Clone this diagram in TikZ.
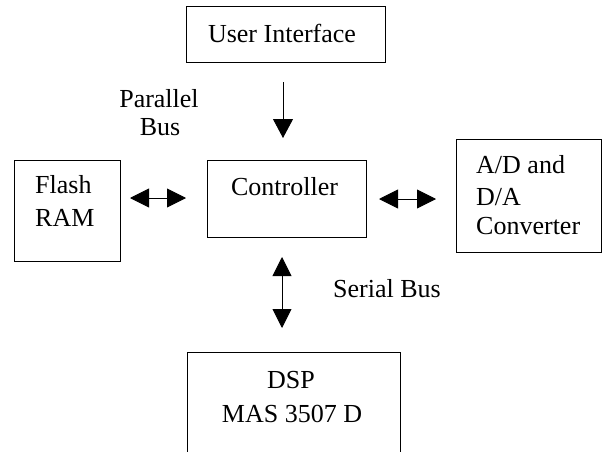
\documentclass[tikz,border=0pt]{standalone}
\usepackage{fontspec}
\setmainfont{Liberation Serif}
\usetikzlibrary{arrows.meta}
\begin{document}
\begin{tikzpicture}[x=1pt,y=-1pt,
  box/.style={draw, line width=1.1pt, rectangle, inner sep=0pt, anchor=north west},
  lbl/.style={inner sep=0pt, font=\fontsize{26}{30}\selectfont},
  bus/.style={line width=0.9pt, -{Triangle[length=19pt,width=20pt]}},
  bibus/.style={line width=0.9pt, {Triangle[length=19pt,width=19pt]}-{Triangle[length=19pt,width=19pt]}}]
  \useasboundingbox (0,0) rectangle (602,452);
  \clip (0,0) rectangle (602,452);

  % blocks
  \node[box, minimum width=199pt, minimum height=56pt] (ui) at (186,6) {};
  \node[box, minimum width=159pt, minimum height=77pt] (ctrl) at (207,160) {};
  \node[box, minimum width=106pt, minimum height=101pt] (flash) at (14,160) {};
  \node[box, minimum width=145pt, minimum height=113pt] (adc) at (456,139) {};
  \node[box, minimum width=213pt, minimum height=130pt] (dsp) at (187,352) {};

  % block texts
  \node[lbl, anchor=base] (uit) at (282,43) {User Interface};
  \node[lbl, anchor=base] (ctrlt) at (284.5,195) {Controller};
  \node[lbl, anchor=base west] (flt1) at (35,193) {Flash};
  \node[lbl, anchor=base west] (flt2) at (35,226) {RAM};
  \node[lbl, anchor=base west] (adt1) at (476,173) {A/D and};
  \node[lbl, anchor=base west] (adt2) at (476,205) {D/A};
  \node[lbl, anchor=base west] (adt3) at (476,234) {Converter};
  \node[lbl, anchor=base] (dspt1) at (291,388) {DSP};
  \node[lbl, anchor=base] (dspt2) at (292,422) {MAS 3507 D};

  % bus labels
  \node[lbl, anchor=base] (par1) at (159,107) {Parallel};
  \node[lbl, anchor=base] (par2) at (160,135) {Bus};
  \node[lbl, anchor=base west] (ser) at (333,297) {Serial Bus};

  % connector ends
  \coordinate (uiA) at (283,82);
  \coordinate (ctA) at (283,138);
  \coordinate (flA) at (130,198);
  \coordinate (ctB) at (186,198);
  \coordinate (ctC) at (379,199);
  \coordinate (adA) at (436,199);
  \coordinate (ctD) at (282,257);
  \coordinate (dsA) at (282,328);

  % buses
  \draw[bus] (uiA) -- (ctA);
  \draw[bibus] (flA) -- (ctB);
  \draw[bibus] (ctC) -- (adA);
  \draw[bibus] (ctD) -- (dsA);
\end{tikzpicture}
\end{document}
